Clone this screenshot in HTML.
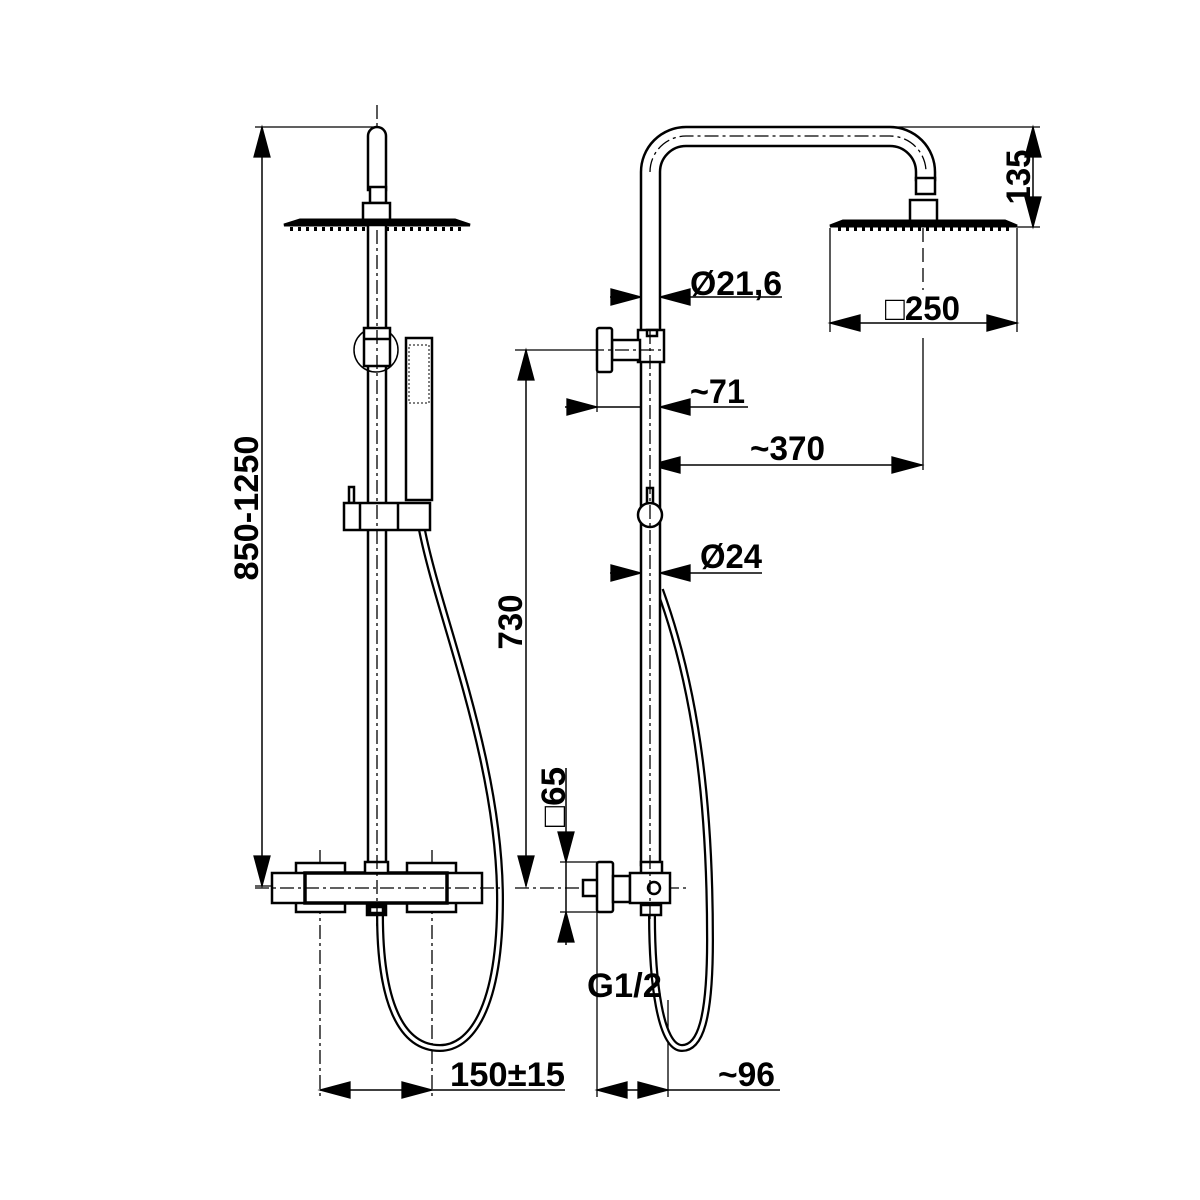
<!DOCTYPE html>
<html><head><meta charset="utf-8"><style>
html,body{margin:0;padding:0;background:#fff}
svg{display:block}
text{font-family:"Liberation Sans",Arial,sans-serif;font-weight:bold;font-size:34px;fill:#000}
</style></head><body>
<svg width="1200" height="1200" viewBox="0 0 1200 1200" xmlns="http://www.w3.org/2000/svg">
<g fill="none" stroke="#000" stroke-width="1.3">
<line x1="255" y1="127" x2="377" y2="127"/>
<line x1="255" y1="886" x2="275" y2="886"/>
<line x1="262" y1="127" x2="262" y2="886" stroke-width="1.5"/>
<path d="M262,127 l-8,30 h16z M262,886 l-8,-30 h16z" fill="#000"/>
<line x1="320" y1="850" x2="320" y2="1100" stroke-dasharray="14,4,3,4"/>
<line x1="432" y1="850" x2="432" y2="1100" stroke-dasharray="14,4,3,4"/>
<line x1="320" y1="1090" x2="565" y2="1090" stroke-width="1.5"/>
<path d="M320,1090 l30,-8 v16z M432,1090 l-30,-8 v16z" fill="#000"/>
<line x1="377" y1="105" x2="377" y2="930" stroke-dasharray="14,4,3,4"/>
</g>
<g fill="#fff" stroke="#000" stroke-width="2.5">
<path d="M422,530 C440,620 500,760 500,900 C500,1010 470,1048 440,1048 C400,1048 380,1000 380,915" fill="none" stroke-width="8"/>
<path d="M422,530 C440,620 500,760 500,900 C500,1010 470,1048 440,1048 C400,1048 380,1000 380,915" fill="none" stroke="#fff" stroke-width="3.5"/>
<path d="M368,190 V136 a9,9 0 0 1 18,0 V190Z"/>
<rect x="370" y="187" width="16" height="16"/>
<rect x="363" y="203" width="27" height="20"/>
<path d="M284,225 L300,220 H455 L470,225 Z" stroke-width="3" fill="#000"/>
<line x1="290" y1="229" x2="465" y2="229" stroke-width="4" stroke-dasharray="3,5"/>
<rect x="368" y="225" width="18" height="640"/>
<circle cx="376" cy="350" r="22" fill="none" stroke-width="1.5"/>
<rect x="364" y="328" width="26" height="38"/>
<line x1="364" y1="339" x2="390" y2="339"/>
<rect x="406" y="338" width="26" height="162"/>
<rect x="409" y="345" width="20" height="58" stroke-width="1" stroke-dasharray="2,2"/>
<rect x="349" y="487" width="5" height="16"/>
<path d="M344,503 H430 V530 H344Z"/>
<line x1="360" y1="503" x2="360" y2="530"/><line x1="398" y1="503" x2="398" y2="530"/>
<rect x="296" y="863" width="49" height="49"/>
<rect x="407" y="863" width="49" height="49"/>
<rect x="272" y="873" width="210" height="30"/>
<rect x="305" y="873" width="142" height="30" stroke-width="3.5"/>
<rect x="365" y="862" width="23" height="11"/>
<rect x="367" y="905" width="19" height="10" fill="#000"/>
<rect x="370" y="907" width="13" height="6"/>
</g>
<g fill="none" stroke="#000" stroke-width="1.3">
<line x1="377" y1="230" x2="377" y2="930" stroke-dasharray="14,4,3,4"/>
<line x1="255" y1="888" x2="500" y2="888" stroke-dasharray="14,4,3,4"/>
<line x1="686" y1="127" x2="1040" y2="127"/>
<line x1="1017" y1="227" x2="1040" y2="227"/>
<line x1="1033" y1="127" x2="1033" y2="227" stroke-width="1.5"/>
<path d="M1033,127 l-8,30 h16z M1033,227 l-8,-30 h16z" fill="#000"/>
<line x1="830" y1="228" x2="830" y2="332"/><line x1="1017" y1="228" x2="1017" y2="332"/>
<line x1="830" y1="323" x2="1017" y2="323" stroke-width="1.5"/>
<path d="M830,323 l30,-8 v16z M1017,323 l-30,-8 v16z" fill="#000"/>
<line x1="923" y1="228" x2="923" y2="290" stroke-dasharray="14,6"/>
<line x1="923" y1="338" x2="923" y2="470"/>
<line x1="610" y1="297" x2="782" y2="297" stroke-width="1.5"/>
<path d="M641,297 l-30,-8 v16z M660,297 l30,-8 v16z" fill="#000"/>
<line x1="515" y1="350" x2="597" y2="350"/>
<line x1="597" y1="350" x2="597" y2="412"/>
<line x1="565" y1="407" x2="748" y2="407" stroke-width="1.5"/>
<path d="M597,407 l-30,-8 v16z M660,407 l30,-8 v16z" fill="#000"/>
<line x1="650" y1="465" x2="922" y2="465" stroke-width="1.5"/>
<path d="M650,465 l30,-8 v16z M922,465 l-30,-8 v16z" fill="#000"/>
<line x1="610" y1="573" x2="762" y2="573" stroke-width="1.5"/>
<path d="M641,573 l-30,-8 v16z M660,573 l30,-8 v16z" fill="#000"/>
<line x1="526" y1="350" x2="526" y2="886" stroke-width="1.5"/>
<path d="M526,350 l-8,30 h16z M526,886 l-8,-30 h16z" fill="#000"/>
<line x1="515" y1="888" x2="690" y2="888" stroke-dasharray="14,4,3,4"/>
<line x1="560" y1="862" x2="600" y2="862"/><line x1="560" y1="912" x2="600" y2="912"/>
<line x1="566" y1="768" x2="566" y2="945" stroke-width="1.5"/>
<path d="M566,862 l-8,-30 h16z M566,912 l-8,30 h16z" fill="#000"/>
<line x1="597" y1="912" x2="597" y2="1097"/>
<line x1="668" y1="1000" x2="668" y2="1097"/>
<line x1="597" y1="1090" x2="780" y2="1090" stroke-width="1.5"/>
<path d="M597,1090 l30,-8 v16z M668,1090 l-30,-8 v16z" fill="#000"/>
</g>
<g fill="#fff" stroke="#000" stroke-width="2.5">
<path d="M660,590 C700,700 710,820 710,940 C710,1020 700,1048 682,1048 C660,1048 652,980 652,915" fill="none" stroke-width="8"/>
<path d="M660,590 C700,700 710,820 710,940 C710,1020 700,1048 682,1048 C660,1048 652,980 652,915" fill="none" stroke="#fff" stroke-width="3.5"/>
<path d="M641,865 V172 A45,45 0 0 1 686,127 H890 A45,45 0 0 1 935,172 V180 H916 V172 A26,26 0 0 0 890,146 H686 A26,26 0 0 0 660,172 V865Z"/>
<rect x="916" y="178" width="19" height="16"/>
<rect x="910" y="200" width="27" height="22"/>
<path d="M830,226 L843,221 H1005 L1017,226 Z" stroke-width="3" fill="#000"/>
<line x1="838" y1="229" x2="1010" y2="229" stroke-width="4" stroke-dasharray="3,5"/>
<rect x="638" y="330" width="26" height="32"/>
<rect x="647" y="330" width="10" height="6"/>
<rect x="612" y="340" width="28" height="20"/>
<rect x="597" y="328" width="15" height="44" rx="2"/>
<rect x="647" y="488" width="6" height="18"/>
<circle cx="650" cy="515" r="12"/>
<rect x="583" y="880" width="17" height="16"/>
<rect x="597" y="862" width="16" height="50" rx="2"/>
<rect x="613" y="876" width="17" height="26"/>
<rect x="641" y="862" width="21" height="12"/>
<rect x="630" y="873" width="40" height="30"/>
<rect x="641" y="905" width="20" height="10"/>
<circle cx="654" cy="888" r="6"/>
</g>
<g fill="none" stroke="#000" stroke-width="1.3" stroke-dasharray="14,4,3,4">
<line x1="650" y1="330" x2="650" y2="920"/>
<path d="M650,172 A36,36 0 0 1 686,136 H890 A36,36 0 0 1 926,172"/>
<line x1="590" y1="350" x2="664" y2="350"/>
</g>
<text x="450" y="1086" textLength="115" lengthAdjust="spacingAndGlyphs">150±15</text>
<text x="718" y="1086" textLength="57" lengthAdjust="spacingAndGlyphs">~96</text>
<text x="587" y="997" textLength="75" lengthAdjust="spacingAndGlyphs">G1/2</text>
<text x="690" y="295" textLength="92" lengthAdjust="spacingAndGlyphs">Ø21,6</text>
<text x="885" y="320" textLength="75" lengthAdjust="spacingAndGlyphs">□250</text>
<text x="690" y="403" textLength="55" lengthAdjust="spacingAndGlyphs">~71</text>
<text x="750" y="460" textLength="75" lengthAdjust="spacingAndGlyphs">~370</text>
<text x="700" y="568" textLength="62" lengthAdjust="spacingAndGlyphs">Ø24</text>
<text transform="translate(258,508) rotate(-90)" text-anchor="middle" textLength="145" lengthAdjust="spacingAndGlyphs">850-1250</text>
<text transform="translate(522,622) rotate(-90)" text-anchor="middle" textLength="55" lengthAdjust="spacingAndGlyphs">730</text>
<text transform="translate(565,797) rotate(-90)" text-anchor="middle" textLength="60" lengthAdjust="spacingAndGlyphs">□65</text>
<text transform="translate(1030,177) rotate(-90)" text-anchor="middle" textLength="55" lengthAdjust="spacingAndGlyphs">135</text>
</svg>
</body></html>
